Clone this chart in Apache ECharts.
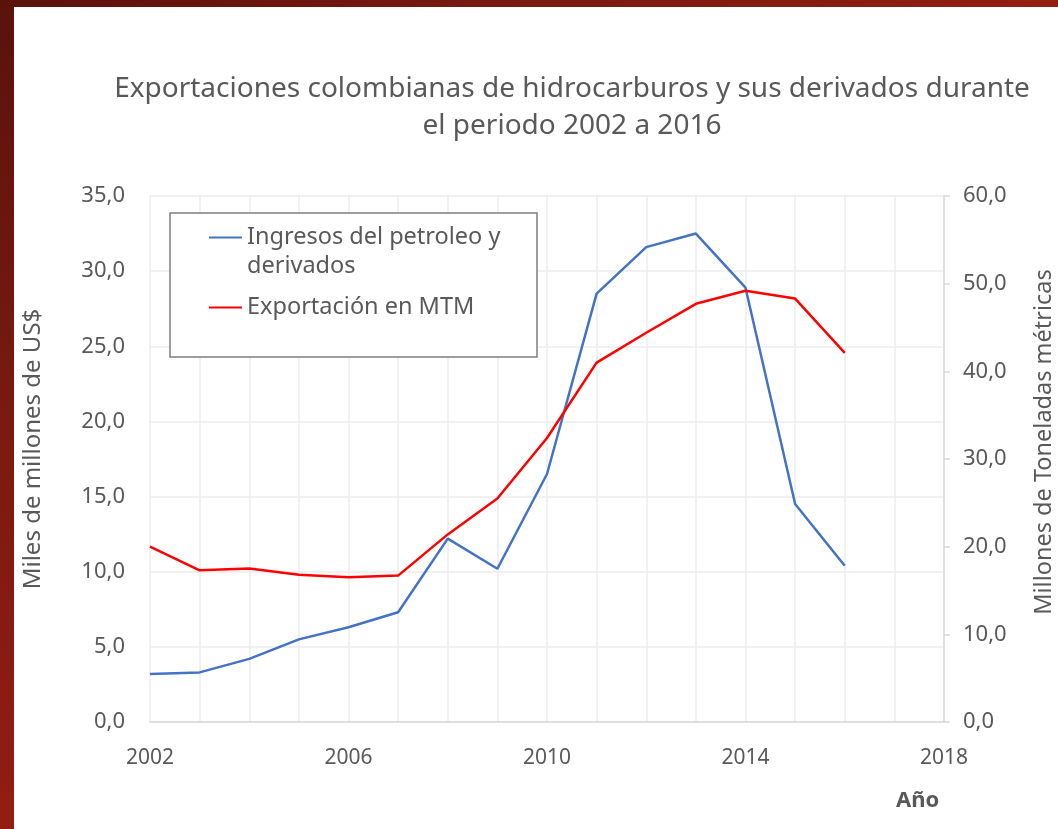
<!DOCTYPE html>
<html>
<head>
<meta charset="utf-8">
<script src="https://cdn.jsdelivr.net/npm/echarts@6/dist/echarts.min.js"></script>
<style>
  html, body { margin: 0; padding: 0; background: #fff; }
  #main { position: absolute; left: 0; top: 0; width: 1058px; height: 829px; }
  .frame { position: absolute; background: linear-gradient(135deg, #5a120b 0%, #7a1a10 50%, #931d13 100%); }
</style>
</head>
<body>
<div id="main"></div>
<div class="frame" style="left:0;top:0;width:1058px;height:7px;"></div>
<div class="frame" style="left:0;top:0;width:14px;height:829px;"></div>
<script>
var myChart = echarts.init(document.getElementById('main'));

// datos
var years = [2002, 2003, 2004, 2005, 2006, 2007, 2008, 2009, 2010, 2011, 2012, 2013, 2014, 2015, 2016];
var ingresos = [3.2, 3.3, 4.2, 5.5, 6.3, 7.3, 12.2, 10.2, 16.5, 28.5, 31.6, 32.5, 28.9, 14.5, 10.4];
var exportacionMTM = [20.0, 17.3, 17.5, 16.8, 16.5, 16.7, 21.4, 25.5, 32.4, 41.0, 44.4, 47.7, 49.2, 48.3, 42.1];
var nombres = ['Ingresos del petroleo y\nderivados', 'Exportación en MTM'];

var gris = '#595959';
var fuente = 'Noto Sans';

function coma(v) {
    return v.toFixed(1).replace('.', ',');
}

option = {
    backgroundColor: '#fff',
    animation: false,
    title: [
        {
            text: 'Exportaciones colombianas de hidrocarburos y sus derivados durante\nel periodo 2002 a 2016',
            left: 567,
            textAlign: 'center',
            top: 66,
            textStyle: {
                fontFamily: fuente,
                fontSize: 28,
                fontWeight: 'normal',
                color: gris,
                lineHeight: 37,
                align: 'center'
            }
        },
        {
            text: 'Año',
            left: 891,
            top: 785,
            textStyle: { fontFamily: fuente, fontSize: 22, fontWeight: 'bold', color: gris }
        }
    ],
    legend: {
        orient: 'vertical',
        left: 209,
        top: 194,
        itemGap: 12,
        itemWidth: 33,
        itemHeight: 2,
        icon: 'rect',
        padding: 0,
        textStyle: { fontFamily: fuente, fontSize: 23.5, color: gris, lineHeight: 29 },
        // linea vacia arriba para que el icono quede en la primera linea
        formatter: function (name) {
            return name.indexOf('\n') >= 0 ? ' \n' + name : name;
        },
        data: nombres
    },
    graphic: [
        {
            type: 'rect',
            shape: { x: 170, y: 213, width: 367, height: 144 },
            style: { fill: '#fff', stroke: '#7f7f7f', lineWidth: 1.5 },
            z: 4
        }
    ],
    grid: {
        left: 150,
        right: 114,
        top: 196,
        bottom: 107,
        outerBoundsMode: 'none'
    },
    xAxis: {
        type: 'value',
        min: 2002,
        max: 2018,
        interval: 1,
        axisLine: { show: true, lineStyle: { color: '#d9d9d9', width: 1.5 } },
        axisTick: { show: false },
        splitLine: { show: true, lineStyle: { color: '#ececec', width: 1.5 } },
        axisLabel: {
            margin: 26,
            fontFamily: fuente,
            fontSize: 21,
            color: gris,
            formatter: function (v) {
                return (v - 2002) % 4 === 0 ? String(v) : '';
            }
        }
    },
    yAxis: [
        {
            type: 'value',
            min: 0,
            max: 35,
            interval: 5,
            name: 'Miles de millones de US$',
            nameLocation: 'middle',
            nameGap: 105,
            nameTextStyle: { fontFamily: fuente, fontSize: 24, color: gris, padding: [0, 0, 0, 20] },
            axisLine: { show: false },
            axisTick: { show: false },
            splitLine: { show: true, lineStyle: { color: '#ececec', width: 1.5 } },
            axisLabel: {
                margin: 25,
                fontFamily: fuente,
                fontSize: 22,
                color: gris,
                formatter: coma
            }
        },
        {
            type: 'value',
            min: 0,
            max: 60,
            interval: 10,
            position: 'right',
            name: 'Millones de Toneladas métricas',
            nameLocation: 'middle',
            nameGap: 88,
            nameTextStyle: { fontFamily: fuente, fontSize: 23.5, color: gris, padding: [0, 0, 0, 34] },
            axisLine: { show: true, lineStyle: { color: '#d9d9d9', width: 1.5 } },
            axisTick: { show: true, length: 6, lineStyle: { color: '#d9d9d9', width: 1.5 } },
            splitLine: { show: false },
            axisLabel: {
                margin: 19,
                fontFamily: fuente,
                fontSize: 22,
                color: gris,
                formatter: coma
            }
        }
    ],
    series: [
        {
            name: nombres[0],
            type: 'line',
            yAxisIndex: 0,
            symbol: 'none',
            z: 3,
            lineStyle: { color: '#4472c4', width: 2.5 },
            itemStyle: { color: '#4472c4' },
            data: years.map(function (y, i) { return [y, ingresos[i]]; })
        },
        {
            name: nombres[1],
            type: 'line',
            yAxisIndex: 1,
            symbol: 'none',
            z: 3,
            lineStyle: { color: '#ff0000', width: 2.5 },
            itemStyle: { color: '#ff0000' },
            data: years.map(function (y, i) { return [y, exportacionMTM[i]]; })
        }
    ]
};

myChart.setOption(option);
</script>
</body>
</html>
